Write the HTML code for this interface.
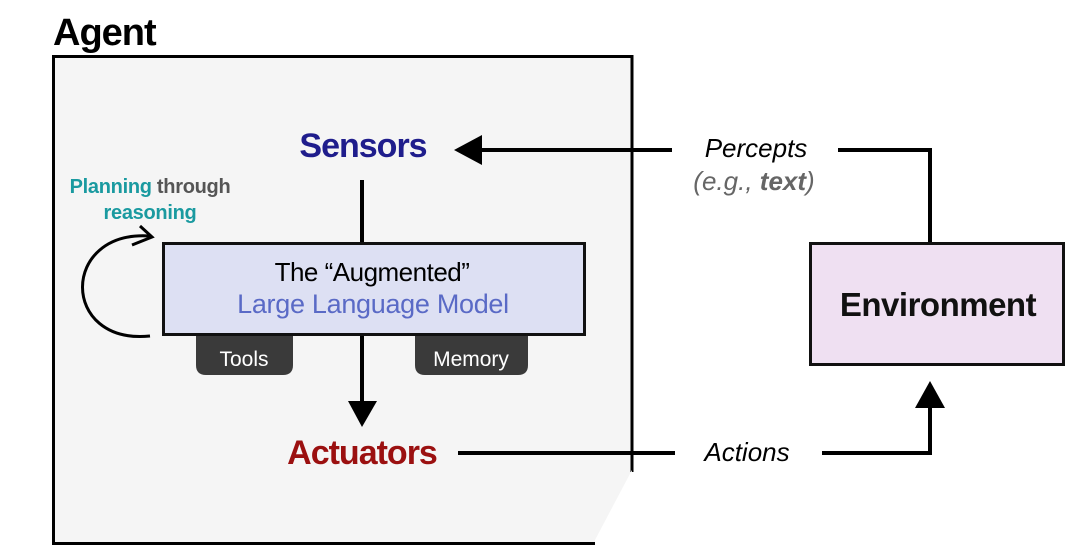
<!DOCTYPE html>
<html><head><meta charset="utf-8"><style>
html,body{margin:0;padding:0;background:#fff;width:1080px;height:556px;overflow:hidden}
text{font-family:"Liberation Sans",sans-serif}
</style></head><body>
<svg width="1080" height="556" viewBox="0 0 1080 556" xmlns="http://www.w3.org/2000/svg">
<text x="53" y="45" font-size="38" font-weight="bold" fill="#000" letter-spacing="-1">Agent</text>
<rect x="53" y="56" width="579" height="488" fill="#f5f5f5"/>
<path d="M53.5 545 V56.5 H632 V472" fill="none" stroke="#000" stroke-width="3"/>
<line x1="53" y1="543.5" x2="595" y2="543.5" stroke="#000" stroke-width="3"/>
<polygon points="595,556 680,556 632,500 632,470 595,540" fill="#fff"/>
<text x="363" y="157" font-size="34" font-weight="bold" fill="#1f1d8c" text-anchor="middle" letter-spacing="-1">Sensors</text>
<line x1="362" y1="180" x2="362" y2="243" stroke="#000" stroke-width="4"/>
<line x1="362" y1="335" x2="362" y2="402" stroke="#000" stroke-width="4"/>
<polygon points="348,401 377,401 362,427" fill="#000"/>
<text x="362" y="464" font-size="34" font-weight="bold" fill="#9b1010" text-anchor="middle" letter-spacing="-1">Actuators</text>
<path d="M196 330 H293 V365 Q293 375 283 375 H206 Q196 375 196 365 Z" fill="#3a3a3a"/>
<path d="M415 330 H528 V365 Q528 375 518 375 H425 Q415 375 415 365 Z" fill="#3a3a3a"/>
<text x="244" y="366" font-size="21" fill="#fff" text-anchor="middle">Tools</text>
<text x="471" y="366" font-size="21" fill="#fff" text-anchor="middle">Memory</text>
<rect x="163.5" y="243.5" width="421" height="91" fill="#dde0f3" stroke="#111" stroke-width="3"/>
<text x="372" y="281" font-size="26" fill="#000" text-anchor="middle" letter-spacing="-0.5">The “Augmented”</text>
<text x="373" y="313" font-size="27" fill="#5a6ac6" text-anchor="middle" letter-spacing="-0.3">Large Language Model</text>
<text x="150" y="193" font-size="20" font-weight="bold" text-anchor="middle" letter-spacing="-0.3"><tspan fill="#1a9aa0">Planning</tspan><tspan fill="#555"> through</tspan></text>
<text x="150" y="219" font-size="20" font-weight="bold" fill="#1a9aa0" text-anchor="middle" letter-spacing="-0.3">reasoning</text>
<path d="M150 236 C60 230 60 345 150 336" fill="none" stroke="#000" stroke-width="3"/>
<path d="M140 226 L152 237 L132 245" fill="none" stroke="#000" stroke-width="3"/>
<line x1="480" y1="150" x2="672" y2="150" stroke="#000" stroke-width="4"/>
<polygon points="454,150 482,135 482,165" fill="#000"/>
<text x="756" y="157" font-size="26" font-style="italic" fill="#000" text-anchor="middle">Percepts</text>
<text x="754" y="190" font-size="26" font-style="italic" fill="#666" text-anchor="middle">(e.g., <tspan font-weight="bold">text</tspan>)</text>
<path d="M838 150 H930 V243" fill="none" stroke="#000" stroke-width="4"/>
<rect x="810.5" y="243.5" width="253" height="121" fill="#efe0f2" stroke="#111" stroke-width="3"/>
<text x="938" y="316" font-size="33" font-weight="bold" fill="#111" text-anchor="middle" letter-spacing="-0.5">Environment</text>
<line x1="458" y1="453" x2="675" y2="453" stroke="#000" stroke-width="4"/>
<text x="747" y="461" font-size="26" font-style="italic" fill="#000" text-anchor="middle">Actions</text>
<path d="M822 453 H930 V405" fill="none" stroke="#000" stroke-width="4"/>
<polygon points="930,381 915,408 945,408" fill="#000"/>
</svg>
</body></html>
